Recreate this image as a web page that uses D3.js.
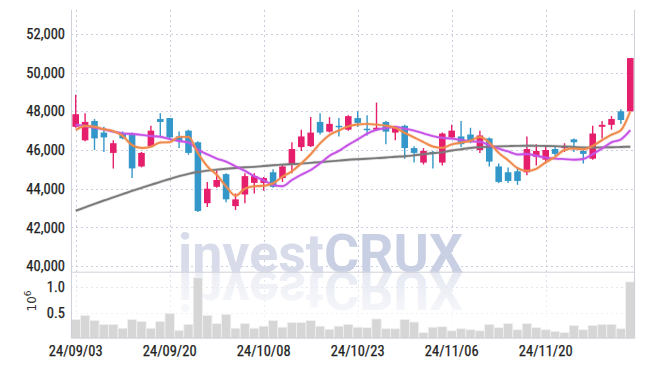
<!DOCTYPE html>
<html><head><meta charset="utf-8">
<script src="https://cdn.jsdelivr.net/npm/d3@7"></script>
<style>
html,body{margin:0;padding:0;background:#fff;}
svg{display:block;}
.ax text{font-family:"Liberation Sans Narrow","Roboto Condensed","DejaVu Sans Condensed",sans-serif;font-size:14.5px;fill:#222;stroke:#222;stroke-width:0.25px;}
</style></head>
<body><svg id="c" width="645" height="366"></svg>
<script>
const dates = ["24/09/03","24/09/04","24/09/05","24/09/06","24/09/09","24/09/10","24/09/11","24/09/12","24/09/13","24/09/19",
"24/09/20","24/09/23","24/09/24","24/09/25","24/09/26","24/09/27","24/09/30","24/10/02","24/10/04","24/10/07",
"24/10/08","24/10/10","24/10/11","24/10/14","24/10/15","24/10/16","24/10/17","24/10/18","24/10/21","24/10/22",
"24/10/23","24/10/24","24/10/25","24/10/28","24/10/29","24/10/30","24/10/31","24/11/01","24/11/04","24/11/05",
"24/11/06","24/11/07","24/11/08","24/11/11","24/11/12","24/11/13","24/11/14","24/11/15","24/11/18","24/11/19",
"24/11/20","24/11/21","24/11/22","24/11/25","24/11/26","24/11/27","24/11/28","24/11/29","24/12/02","24/12/03"];
const open  = [47200,46500,47500,46900,45850,46850,46800,45150,46200,47600,47650,46700,47000,46400,43250,44100,44750,43100,43700,44300,
44300,44850,44550,45250,46150,46200,47450,46950,47250,47050,47650,47100,47050,47450,46900,47250,46100,45350,45900,45350,
46650,46700,46800,46000,46600,45150,44850,44900,44850,45650,45500,46050,46100,46550,45950,45550,47200,47300,48000,48000];
const high  = [48850,47900,47600,47200,46500,46950,46900,45900,47250,47900,47650,46950,47050,46450,44350,44950,44800,43750,44800,44800,
44600,45000,45250,46400,47050,47700,47900,47700,47650,47800,48000,47800,48450,47500,47250,47300,46200,46100,45950,46900,
47300,47500,47150,47000,46650,45300,45100,45100,46700,46300,46250,46200,46350,46600,46000,47250,47500,47750,48100,50750];
const low   = [47150,46450,46000,45900,45050,46550,44550,45100,46150,46700,46550,46100,45750,42800,43050,44050,43300,42900,43250,43750,
43900,44050,44350,44800,45950,46150,46800,46900,46700,47000,47200,46750,47000,46300,46500,45550,45350,45250,45050,45200,
46600,46150,46350,45850,45150,44300,44300,44200,44700,45200,45300,45700,45900,45900,45300,45500,46600,47050,47350,48000];
const close = [47850,47450,46600,46650,46350,46600,45050,45850,47000,47450,46650,46450,45850,42850,44000,44450,43450,43450,44650,44650,
44550,44100,45150,46050,46700,46900,46900,47350,47200,47750,47400,47050,47150,46950,47200,46100,45850,45950,45800,46850,
47000,46300,46450,46750,45400,44350,44400,44400,46050,45950,46000,45800,46200,46400,45800,46850,47300,47600,47550,50750];
const volume = [0.37,0.45,0.35,0.275,0.275,0.20,0.37,0.33,0.20,0.33,0.49,0.16,0.275,1.18,0.45,0.29,0.47,0.20,0.29,0.20,
0.24,0.35,0.22,0.31,0.31,0.35,0.24,0.18,0.24,0.275,0.22,0.21,0.38,0.19,0.19,0.37,0.32,0.115,0.22,0.23,
0.15,0.19,0.17,0.15,0.275,0.21,0.29,0.17,0.29,0.21,0.17,0.14,0.115,0.255,0.17,0.255,0.275,0.275,0.19,1.10];
// moving-average values before enough in-chart history exists
const ma5Lead  = [47030,47240,47200,47070];
const ma10Lead = [47290,47240,47150,47070,46950,46860,46830,46780,46720];
const ma60 = [42860,43040,43220,43390,43550,43715,43885,44045,44195,44355,44500,44650,44770,44865,44935,44985,45030,45070,45105,45130,
45170,45210,45245,45270,45295,45335,45375,45410,45450,45495,45525,45550,45580,45610,45650,45680,45725,45785,45835,45880,
45975,46040,46105,46145,46165,46185,46200,46215,46220,46215,46210,46200,46180,46155,46130,46125,46135,46145,46155,46170];
const priceTicks = [40000,42000,44000,46000,48000,50000,52000];
const volTicks = [0.5,1.0];
const labelIdx = [0,10,20,30,40,50];

function ma(n, lead){ return close.map((c,i)=> i < n-1 ? lead[i] : d3.mean(close.slice(i-n+1,i+1))); }
const ma5 = ma(5, ma5Lead), ma10 = ma(10, ma10Lead);

const L=71, R=635, T=10, SEP=271.7, B=337.5;
const svg = d3.select("#c");
const x = d3.scaleBand().domain(d3.range(dates.length)).range([L,R]).padding(0);
const xc = i => x(i) + x.bandwidth()/2;
const y = d3.scaleLinear().domain([39711,53235]).range([SEP,T]);
const yv = d3.scaleLinear().domain([0,1.297]).range([338.5,SEP]);

const UP="#e61f6c", DOWN="#3497c9";
const grid = svg.append("g").attr("stroke","#c9cde0").attr("stroke-dasharray","2,3").attr("stroke-width",1);
priceTicks.forEach(t=>grid.append("line").attr("x1",L).attr("x2",R).attr("y1",Math.round(y(t))+0.5).attr("y2",Math.round(y(t))+0.5));
volTicks.forEach(t=>grid.append("line").attr("x1",L).attr("x2",R).attr("y1",Math.round(yv(t))+0.5).attr("y2",Math.round(yv(t))+0.5));
labelIdx.forEach(i=>grid.append("line").attr("x1",Math.round(xc(i))+0.5).attr("x2",Math.round(xc(i))+0.5).attr("y1",T).attr("y2",B));

// watermark + reflection
const wm = svg.append("g").attr("font-family","Roboto, 'Liberation Sans', sans-serif").attr("font-weight","bold").attr("font-size","54px");
function mark(g){
  const t = g.append("text").attr("x",178).attr("y",SEP).attr("textLength",285).attr("lengthAdjust","spacingAndGlyphs");
  t.append("tspan").attr("fill","#d7dbea").text("invest");
  t.append("tspan").attr("fill","#cad0e4").text("CRUX");
}
mark(wm.append("g"));
const defs = svg.append("defs");
const lg = defs.append("linearGradient").attr("id","fade").attr("x1",0).attr("x2",0).attr("y1",0).attr("y2",1);
lg.append("stop").attr("offset","0").attr("stop-color","#fff").attr("stop-opacity",0.35);
lg.append("stop").attr("offset","1").attr("stop-color","#fff").attr("stop-opacity",1);
const refl = wm.append("g").attr("transform",`translate(0,${2*SEP}) scale(1,-1)`).attr("opacity",0.7);
mark(refl);
svg.append("rect").attr("x",L).attr("y",SEP).attr("width",R-L).attr("height",B-SEP).attr("fill","url(#fade)");

// volume bars
svg.append("g").selectAll("rect").data(volume).join("rect")
  .attr("x",(d,i)=>x(i)).attr("width",x.bandwidth())
  .attr("y",d=>yv(d)).attr("height",d=>yv(0)-yv(d))
  .attr("fill","#d6d6d6").attr("stroke","#f2f2f2").attr("stroke-width",0.8);

// frame
const fr = svg.append("g").attr("stroke","#d0d0d8").attr("stroke-width",1);
fr.append("line").attr("x1",L+0.5).attr("x2",L+0.5).attr("y1",T).attr("y2",B);
fr.append("line").attr("x1",R-0.5).attr("x2",R-0.5).attr("y1",T).attr("y2",B);
fr.append("line").attr("x1",L).attr("x2",R).attr("y1",SEP+0.5).attr("y2",SEP+0.5);
fr.append("line").attr("x1",L).attr("x2",R).attr("y1",B+0.5).attr("y2",B+0.5);

// candles
const bw = x.bandwidth()*0.7;
const cg = svg.append("g").selectAll("g").data(dates).join("g");
cg.append("line").attr("x1",(d,i)=>xc(i)).attr("x2",(d,i)=>xc(i))
  .attr("y1",(d,i)=>y(high[i])).attr("y2",(d,i)=>y(low[i]))
  .attr("stroke",(d,i)=>close[i]>=open[i]?UP:DOWN).attr("stroke-width",1.4);
cg.append("rect").attr("x",(d,i)=>xc(i)-bw/2).attr("width",bw)
  .attr("y",(d,i)=>y(Math.max(open[i],close[i])))
  .attr("height",(d,i)=>Math.max(1.5,Math.abs(y(open[i])-y(close[i]))))
  .attr("fill",(d,i)=>close[i]>=open[i]?UP:DOWN);

// moving averages
const line = d3.line().x((d,i)=>xc(i)).y(d=>y(d)).curve(d3.curveMonotoneX);
[[ma60,"#7a7a7a"],[ma10,"#c653e6"],[ma5,"#ef8a4c"]].forEach(([s,c])=>{
  svg.append("path").attr("d",line(s)).attr("fill","none").attr("stroke",c).attr("stroke-width",3.4).attr("stroke-opacity",0.25);
  svg.append("path").attr("d",line(s)).attr("fill","none").attr("stroke",c).attr("stroke-width",1.9);
});

// axes
const ay = svg.append("g").attr("class","ax").attr("transform",`translate(${L},0)`)
  .call(d3.axisLeft(y).tickValues(priceTicks).tickFormat(d3.format(",")).tickSize(0).tickPadding(6));
ay.select(".domain").remove();
const av = svg.append("g").attr("class","ax").attr("transform",`translate(${L},0)`)
  .call(d3.axisLeft(yv).tickValues(volTicks).tickFormat(d3.format(".1f")).tickSize(0).tickPadding(6));
av.select(".domain").remove();
const axx = svg.append("g").attr("class","ax").attr("transform",`translate(0,${B})`)
  .call(d3.axisBottom(x).tickValues(labelIdx).tickFormat(i=>dates[i]).tickSize(0).tickPadding(8));
axx.select(".domain").remove();

const u = svg.append("text").attr("transform","translate(36,301) rotate(-90)")
  .attr("text-anchor","middle").attr("font-family","'DejaVu Sans',sans-serif").attr("font-size","12px").attr("fill","#333");
u.append("tspan").text("10");
u.append("tspan").attr("dy","-5").attr("font-size","9px").text("6");
</script></body></html>
